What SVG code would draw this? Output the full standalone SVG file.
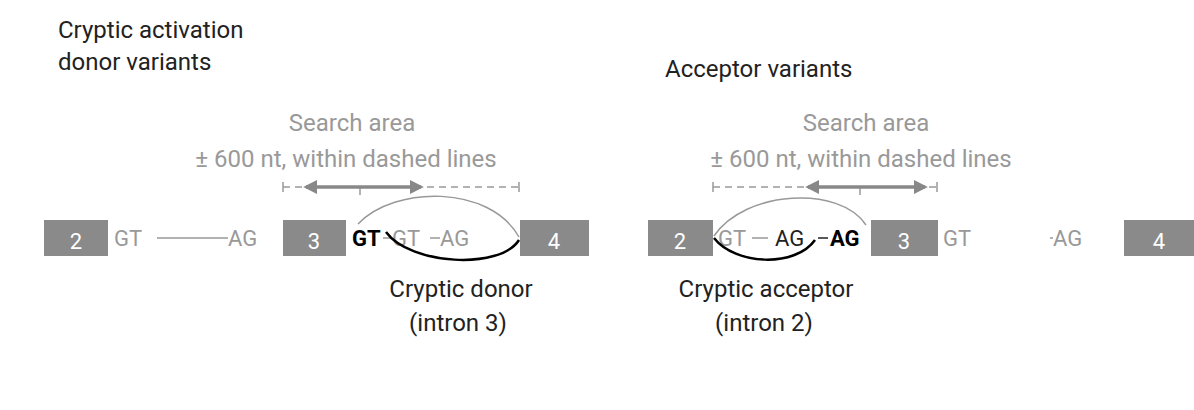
<svg xmlns="http://www.w3.org/2000/svg" width="1194" height="410" viewBox="0 0 1194 410">
<style>
text{font-family:Roboto,"Liberation Sans",sans-serif}
.t{font-size:24px;fill:#222}
.g{font-size:24px;fill:#999}
.s{font-size:22px;fill:#999}
.b{font-size:22px;fill:#000;font-weight:bold}
.k{font-size:22px;fill:#222}
.n{font-size:22px;fill:#fff}
.ex{fill:#8a8a8a}
.ln{stroke:#999;stroke-width:1.5;fill:none}
.dl{stroke:#999;stroke-width:1.5;stroke-dasharray:7 5;fill:none}
.ar{stroke:#888;stroke-width:3.5;fill:none}
.ga{stroke:#999;stroke-width:1.5;fill:none}
.ba{stroke:#000;stroke-width:2.5;fill:none}
</style>
<defs>
<marker id="ah" viewBox="0 0 10 10" refX="8" refY="5" markerWidth="4" markerHeight="4" orient="auto-start-reverse"><path d="M0,0L10,5L0,10z" fill="#888"/></marker>
</defs>
<text class="t" x="58" y="38">Cryptic activation</text>
<text class="t" x="58" y="70">donor variants</text>
<text class="t" x="665" y="77">Acceptor variants</text>
<text class="g" x="352" y="131" text-anchor="middle">Search area</text>
<text class="g" x="346" y="167" text-anchor="middle">± 600 nt, within dashed lines</text>
<text class="g" x="866" y="131" text-anchor="middle">Search area</text>
<text class="g" x="861" y="167" text-anchor="middle">± 600 nt, within dashed lines</text>
<g id="exon2L"><rect class="ex" x="44" y="220" width="64" height="36"/><text class="n" x="76" y="249" text-anchor="middle">2</text></g>
<g id="exon3L"><rect class="ex" x="283" y="220" width="63" height="36"/><text class="n" x="314" y="249" text-anchor="middle">3</text></g>
<g id="exon4L"><rect class="ex" x="520" y="220" width="69" height="36"/><text class="n" x="554" y="249" text-anchor="middle">4</text></g>
<g id="exon2R"><rect class="ex" x="648" y="220" width="65" height="36"/><text class="n" x="680" y="249" text-anchor="middle">2</text></g>
<g id="exon3R"><rect class="ex" x="871" y="220" width="67" height="36"/><text class="n" x="904" y="249" text-anchor="middle">3</text></g>
<g id="exon4R"><rect class="ex" x="1124" y="220" width="70" height="36"/><text class="n" x="1159" y="249" text-anchor="middle">4</text></g>
<g id="seqL">
<text class="s" x="114" y="246">GT</text>
<text class="s" x="228" y="246">AG</text>
<text class="b" x="352" y="246">GT</text>
<text class="s" x="392" y="246">GT</text>
<text class="s" x="440" y="246">AG</text>
</g>
<g id="seqR">
<text class="s" x="718" y="246">GT</text>
<text class="k" x="775" y="246">AG</text>
<text class="b" x="830" y="246">AG</text>
<text class="s" x="943" y="246">GT</text>
<text class="s" x="1053" y="246">AG</text>
</g>
<g id="connectors">
<path class="ln" d="M157,238H228M383,238H392M430,238H440"/>
<path class="ln" d="M752,238H768M1050,238H1053"/>
<path stroke="#222" stroke-width="1.5" d="M818,238H828"/>
<path class="dl" d="M283,187H519"/>
<path class="ln" d="M283,182V192M519,182V192M360,187V195"/>
<path class="ar" d="M306,187H421" marker-start="url(#ah)" marker-end="url(#ah)"/>
<path class="dl" d="M713,187H937"/>
<path class="ln" d="M713,182V192M937,182V192M860,187V195"/>
<path class="ar" d="M808,187H925" marker-start="url(#ah)" marker-end="url(#ah)"/>
<path class="ga" d="M358,224C395,185 490,185 519,237"/>
<path class="ba" d="M386,232C410,265 500,270 519,240"/>
<path class="ga" d="M714,236C745,190 840,185 866,225"/>
<path class="ba" d="M714,238C735,265 795,268 815,240"/>
</g>
<text class="t" x="461" y="297" text-anchor="middle">Cryptic donor</text>
<text class="t" x="458" y="331" text-anchor="middle">(intron 3)</text>
<text class="t" x="766" y="297" text-anchor="middle">Cryptic acceptor</text>
<text class="t" x="764" y="331" text-anchor="middle">(intron 2)</text>
</svg>
